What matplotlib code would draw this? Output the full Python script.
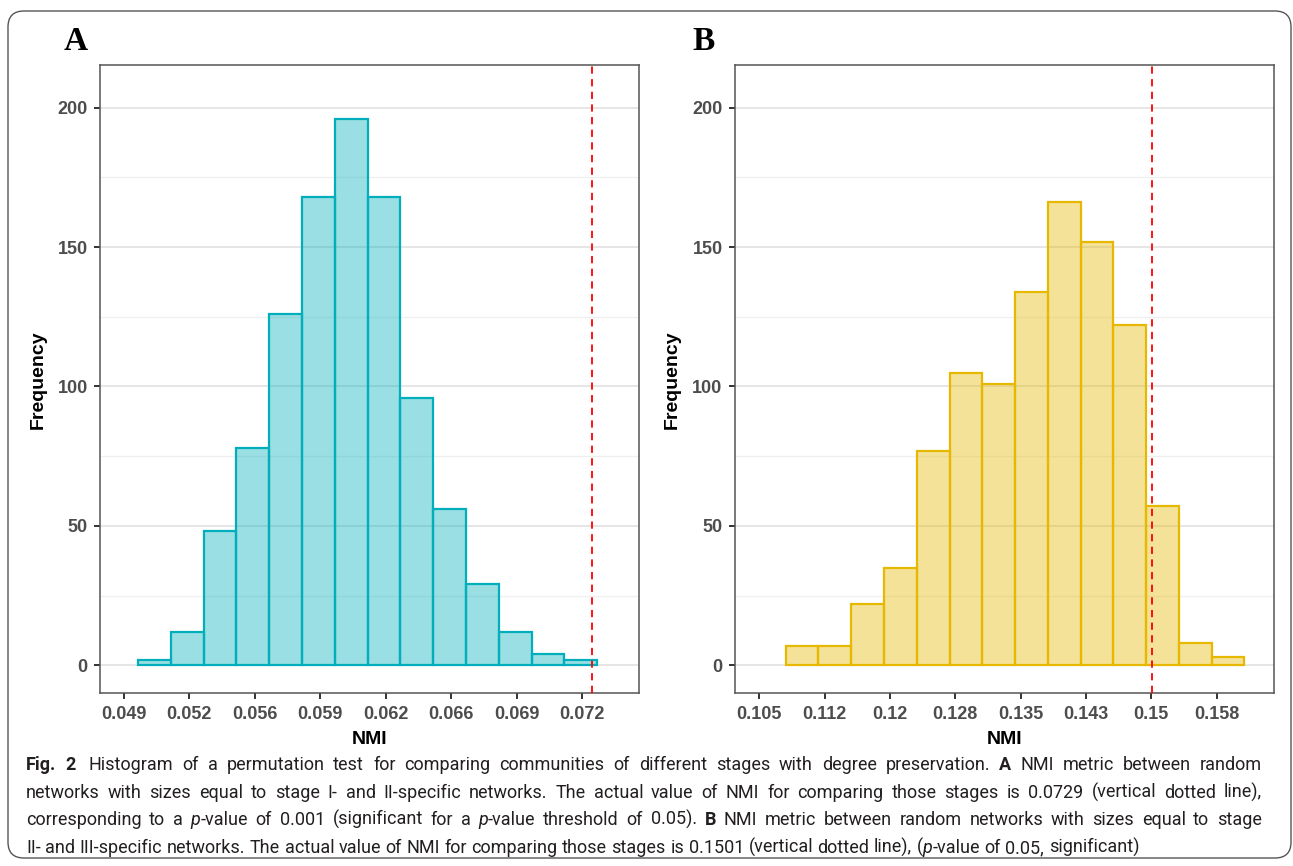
import re
import matplotlib
matplotlib.use("Agg")
import numpy as np
import matplotlib.pyplot as plt
from matplotlib.patches import FancyBboxPatch
from matplotlib.transforms import IdentityTransform

W, H = 1293, 866

# ---- data -------------------------------------------------------------
a_counts = [2, 12, 48, 78, 126, 168, 196, 168, 96, 56, 29, 12, 4, 2]
a_bin_start = 0.04983
a_bin_width = 0.001668
a_ticks = [0.04911, 0.05244, 0.05577, 0.05910, 0.06243, 0.06576, 0.06909, 0.07242]
a_labels = ["0.049", "0.052", "0.056", "0.059", "0.062", "0.066", "0.069", "0.072"]
a_actual = 0.0729

b_counts = [7, 7, 22, 35, 77, 105, 101, 134, 166, 152, 122, 57, 8, 3]
b_bin_start = 0.10801
b_bin_width = 0.003768
b_ticks = [0.10496, 0.11248, 0.11999, 0.12751, 0.13502, 0.14254, 0.15005, 0.15757]
b_labels = ["0.105", "0.112", "0.12", "0.128", "0.135", "0.143", "0.15", "0.158"]
b_actual = 0.1501

y_ticks = [0, 50, 100, 150, 200]
y_minor = [25, 75, 125, 175]

TEAL = "#00AFBB"
GOLD = "#E7B800"

fig = plt.figure(figsize=(W / 100, H / 100), dpi=100)
fig.patch.set_facecolor("white")

# rounded frame around the whole figure
frame = FancyBboxPatch((8, 8), 1283, 847, boxstyle="round,pad=0,rounding_size=16",
                       transform=IdentityTransform(), facecolor="none",
                       edgecolor="#555555", lw=1.0, zorder=0)
fig.patches.append(frame)


def px_axes(l, r, t, b):
    return fig.add_axes([l / W, 1 - b / H, (r - l) / W, (b - t) / H])


def histpanel(ax, counts, start, width, ticks, labels, actual, color, xlim):
    edges = start + width * np.arange(len(counts))
    ax.bar(edges, counts, width=width, align="edge", color=color, alpha=0.4,
           edgecolor="none", zorder=2)
    ax.bar(edges, counts, width=width, align="edge", facecolor="none",
           edgecolor=color, lw=1.6, zorder=3)
    ax.axvline(actual, color="#FF0000", lw=1.3, ls=(0, (4, 3)), zorder=4)
    ax.set_xlim(*xlim)
    ax.set_ylim(-10.04, 215.2)
    ax.set_xticks(ticks)
    ax.set_xticklabels(labels)
    ax.set_yticks(y_ticks)
    ax.set_yticks(y_minor, minor=True)
    ax.grid(axis="y", which="major", color="#E6E6E6", lw=1.4, zorder=0)
    ax.grid(axis="y", which="minor", color="#F0F0F0", lw=1.0, zorder=0)
    ax.set_axisbelow(True)
    for s in ax.spines.values():
        s.set_color("#555555")
        s.set_linewidth(1.1)
    ax.tick_params(axis="both", which="major", length=4.5, width=1.4,
                   color="#333333", labelcolor="#4D4D4D", labelsize=13, pad=4.5)
    ax.tick_params(axis="y", which="minor", length=0)
    for lab in ax.get_xticklabels() + ax.get_yticklabels():
        lab.set_fontweight("bold")
        lab.set_family("Liberation Sans")
    ax.set_xlabel("NMI", fontsize=14, fontweight="bold", family="Liberation Sans",
                  labelpad=6)
    ax.set_ylabel("Frequency", fontsize=14, fontweight="bold",
                  family="Liberation Sans", labelpad=8)


ax1 = px_axes(100.3, 638.7, 65.3, 693.3)
histpanel(ax1, a_counts, a_bin_start, a_bin_width, a_ticks, a_labels, a_actual,
          TEAL, (0.047917, 0.07529))
ax2 = px_axes(735.0, 1273.7, 65.3, 693.3)
histpanel(ax2, b_counts, b_bin_start, b_bin_width, b_ticks, b_labels, b_actual,
          GOLD, (0.102175, 0.164131))

fig.text(64 / W, 1 - 41 / H, "A", fontsize=24, fontweight="bold",
         family="Liberation Serif", va="center", ha="left")
fig.text(692 / W, 1 - 41 / H, "B", fontsize=24, fontweight="bold",
         family="Liberation Serif", va="center", ha="left")

# ---- caption (justified, last line ragged) -------------------------------
CAP_FONT = "Roboto"
cap_lines = [
    [("Fig. 2", "bold"), ("  Histogram of a permutation test for comparing communities of "
      "different stages with degree preservation. ", "normal"), ("A", "bold"),
     (" NMI metric between random", "normal")],
    [("networks with sizes equal to stage I- and II-specific networks. The actual value "
      "of NMI for comparing those stages is 0.0729 (vertical dotted line),", "normal")],
    [("corresponding to a ", "normal"), ("p", "italic"),
     ("-value of 0.001 (significant for a ", "normal"), ("p", "italic"),
     ("-value threshold of 0.05). ", "normal"), ("B", "bold"),
     (" NMI metric between random networks with sizes equal to stage", "normal")],
    [("II- and III-specific networks. The actual value of NMI for comparing those stages "
      "is 0.1501 (vertical dotted line), (", "normal"), ("p", "italic"),
     ("-value of 0.05, significant)", "normal")],
]
cap_baseline = [770, 798, 825, 853]
cap_x0, cap_x1 = 26, 1262
cap_size = 13.0

renderer = fig.canvas.get_renderer()


def style_kw(style, size):
    kw = dict(fontsize=size, family=CAP_FONT)
    if style == "bold":
        kw["fontweight"] = "bold"
    elif style == "italic":
        kw["fontstyle"] = "italic"
    return kw


def text_w(s, style, size):
    kw = style_kw(style, size)
    t = fig.text(0, 0, "|" + s + "|", **kw)
    g = fig.text(0, 0, "||", **kw)
    w = t.get_window_extent(renderer).width - g.get_window_extent(renderer).width
    t.remove()
    g.remove()
    return w


def tokens(segs):
    out = []
    for s, style in segs:
        for piece in re.split(r"( +)", s):
            if not piece:
                continue
            out.append(("glue" if piece.startswith(" ") else "word", piece, style))
    return out


for i, (segs, y) in enumerate(zip(cap_lines, cap_baseline)):
    toks = tokens(segs)
    widths = [text_w(p, st, cap_size) for _, p, st in toks]
    n_glue = sum(1 for k, _, _ in toks if k == "glue")
    extra = 0.0
    if i < len(cap_lines) - 1 and n_glue:
        extra = (cap_x1 - cap_x0 - sum(widths)) / n_glue
    x = cap_x0
    for (kind, p, st), w in zip(toks, widths):
        if kind == "word":
            fig.text(x / W, 1 - y / H, p, va="baseline", ha="left", color="#231F20",
                     **style_kw(st, cap_size))
            x += w
        else:
            x += w + extra

fig.savefig("out.png", dpi=100, facecolor="white")
